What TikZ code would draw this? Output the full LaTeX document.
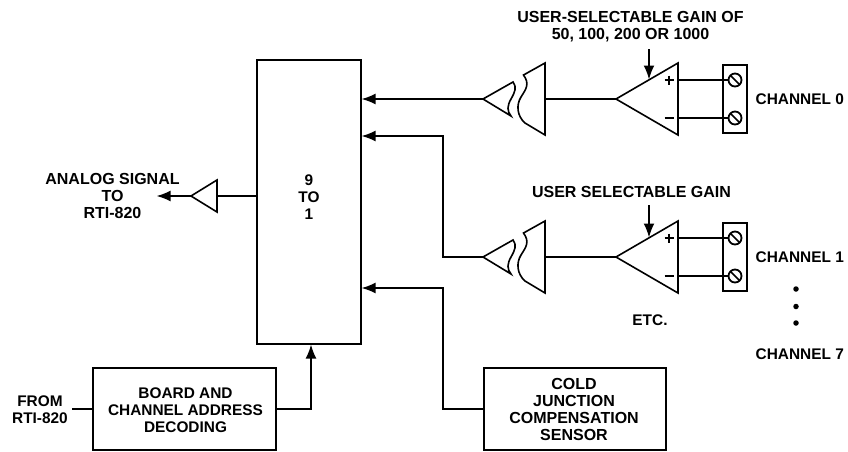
\documentclass[tikz,border=0pt]{standalone}
\usepackage{fontspec}
\setmainfont{Liberation Sans}
\usetikzlibrary{arrows.meta,calc}
\tikzset{
  lbl/.style={font=\fontsize{15.4}{17}\selectfont\bfseries,align=center,inner sep=0pt},
  lblw/.style={lbl,font=\fontsize{16}{17}\selectfont\bfseries},
  boxnode/.style={draw,line width=2pt,inner sep=0pt},
  wire/.style={line width=1.8pt},
  thickwire/.style={line width=2.6pt},
  sym/.style={line width=1.6pt,line join=miter},
  arr/.style={line width=1.8pt,-{Latex[length=14pt,width=11pt]},shorten >=-0.5pt},
  chainpic/.pic={
    % isolator amplifier, left half
    \draw[sym] (513,-17) .. controls (517,-12) and (515,-7) .. (511,0)
       .. controls (507,7) and (507,12) .. (511,17) -- (483,0) -- cycle;
    % isolator, right half
    \draw[sym] (523.5,-24) .. controls (530,-15) and (526,-10) .. (521,-2)
       .. controls (516,6) and (517,17) .. (525,24) -- (545,36) -- (545,-36) -- cycle;
    % gain amplifier
    \draw[sym] (616,0) -- (678,-36) -- (678,36) -- cycle;
    \draw[thickwire] (545,0) -- (616,0);
    \draw[line width=1.9pt] (664.5,-19) -- (673.5,-19) (669,-23.5) -- (669,-14.5);
    \draw[line width=1.9pt] (664.5,19) -- (673.5,19);
    % terminal block
    \draw[line width=1.6pt] (723,-34) rectangle (747,34);
    \coordinate (-plus) at (735,-19);
    \coordinate (-minus) at (735,19);
    \foreach \t in {-plus,-minus}{
      \draw[line width=1.8pt] (\t) circle (6.5pt);
      \draw[line width=1.5pt] ($(\t)+(-4.6,-4.6)$) -- ($(\t)+(4.6,4.6)$);
    }
    \draw[wire] (678,-19) -- (728.5,-19);
    \draw[wire] (678,19) -- (728.5,19);
    \coordinate (-out) at (483,0);
    \coordinate (-gain) at (649,-20);
  }
}
\begin{document}
\begin{tikzpicture}[x=1pt,y=-1pt]
\useasboundingbox (0,0) rectangle (848,451);
% multiplexer
\node[boxnode,minimum width=104pt,minimum height=284pt] (mux) at (309,202) {};
\node[lbl] (muxtext) at (309,197.5) {9\\TO\\1};
% channels
\pic (c0) at (0,99) {chainpic};
\pic (c1) at (0,257) {chainpic};
\draw[arr] (c0-out) -- (c0-out -| mux.east);
\coordinate (in1) at (443,136);
\draw[arr] (c1-out) -- (c1-out -| in1) -- (in1) -- (in1 -| mux.east);
\coordinate (g0) at (649,49);
\coordinate (g1) at (649,205);
\draw[arr] (g0) -- (c0-gain);
\draw[arr] (g1) -- (c1-gain);
\node[lblw] (t0) at (630.5,26.5) {USER-SELECTABLE GAIN OF\\50, 100, 200 OR 1000};
\node[lblw] (t1) at (631.5,192) {USER SELECTABLE GAIN};
\node[lbl,anchor=west] (ch0) at (755.5,99.5) {CHANNEL 0};
\node[lbl,anchor=west] (ch1) at (755.5,257) {CHANNEL 1};
\node[lbl,anchor=west] (ch7) at (755.5,354) {CHANNEL 7};
\node[lbl] (etc) at (650,320) {ETC.};
\foreach \n/\y in {a/289,b/306.5,c/323}{
  \node[circle,fill=black,inner sep=0pt,minimum size=5.5pt] (dot\n) at (796,\y) {};
}
% output
\coordinate (buf) at (217,196);
\draw[sym] (191,196) -- (217,180) -- (217,212) -- cycle;
\coordinate (buftip) at (191,196);
\coordinate (bufend) at (157,196);
\draw[wire] (buf) -- (buf -| mux.west);
\draw[arr] (buftip) -- (bufend);
\node[lblw] (out) at (112.5,196) {ANALOG SIGNAL\\TO\\RTI-820};
% lower boxes
\node[boxnode,minimum width=183pt,minimum height=82pt] (dec) at (184.5,409) {};
\node[lbl] (dectext) at (185.5,410) {BOARD AND\\CHANNEL ADDRESS\\DECODING};
\node[boxnode,minimum width=182pt,minimum height=82pt] (cjc) at (575,409) {};
\node[lblw] (cjctext) at (574,409.5) {COLD\\JUNCTION\\COMPENSATION\\SENSOR};
\node[lbl] (from) at (40,409.5) {FROM\\RTI-820};
\coordinate (fromend) at (72,409);
\draw[thickwire] (fromend) -- (dec.west);
\coordinate (upx) at (311,409);
\draw[arr] (dec.east) -- (upx) -- (upx |- mux.south);
\coordinate (in3) at (443,288);
\draw[arr] (cjc.west) -- (cjc.west -| in3) -- (in3) -- (in3 -| mux.east);
\end{tikzpicture}
\end{document}
